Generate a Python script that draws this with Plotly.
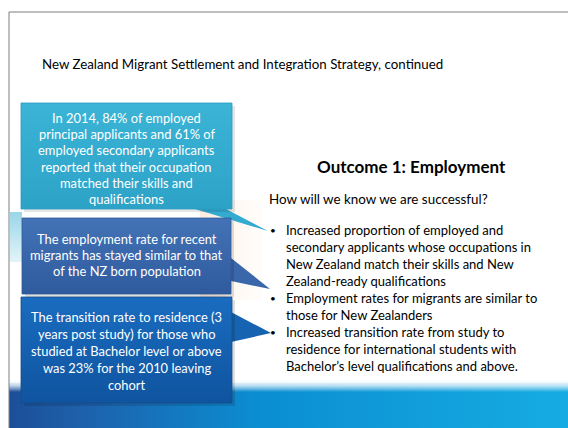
import plotly.graph_objects as go

# ---- slide text content ----
TITLE = "New Zealand Migrant Settlement and Integration Strategy, continued"
BOX1_LINES = ["In 2014, 84% of employed", "principal applicants and 61% of",
              "employed secondary applicants", "reported that their occupation",
              "matched their skills and", "qualifications"]
BOX2_LINES = ["The employment rate for recent", "migrants has stayed similar to that",
              "of the NZ born population"]
BOX3_LINES = ["The transition rate to residence (3", "years post study) for those who",
              "studied at Bachelor level or above", "was 23% for the 2010 leaving",
              "cohort"]
HEADING = "Outcome 1: Employment"
QUESTION = "How will we know we are successful?"
BULLETS = [
    ["Increased proportion of employed and", "secondary applicants whose occupations in",
     "New Zealand match their skills and New", "Zealand-ready qualifications"],
    ["Employment rates for migrants are similar to", "those for New Zealanders"],
    ["Increased transition rate from study to", "residence for international students with",
     "Bachelor\u2019s level qualifications and above."],
]

W, H = 568, 428
FONT = "Lato"

fig = go.Figure()


def poly(xs, ys, color=None, grad=None, line_color=None, lw=0):
    kw = dict(x=list(xs) + [xs[0]], y=list(ys) + [ys[0]], mode="lines", fill="toself",
              hoverinfo="skip", showlegend=False,
              line=dict(width=lw, color=line_color or "rgba(0,0,0,0)"))
    if grad is not None:
        kw["fillgradient"] = grad
    else:
        kw["fillcolor"] = color
    fig.add_trace(go.Scatter(**kw))


def rect(x0, y0, x1, y1, **kw):
    poly([x0, x1, x1, x0], [y0, y0, y1, y1], **kw)


# faint blurred photo behind callouts
rect(200, 200, 262, 300, grad=dict(type="horizontal", start=200, stop=262,
                                   colorscale=[[0, "rgba(250,190,140,0.30)"],
                                               [1, "rgba(255,235,215,0.10)"]]))
rect(10, 212, 22, 262, grad=dict(type="vertical", start=212, stop=262,
                                 colorscale=[[0, "rgba(70,180,215,0.55)"],
                                             [1, "rgba(70,180,215,0.15)"]]))

# bottom band
rect(9, 383, W, H, grad=dict(type="horizontal", start=9, stop=W,
                             colorscale=[[0, "#1B4E98"], [0.12, "#1E5FAA"], [0.45, "#0B8ED2"],
                                         [1, "#16ACE2"]]))
rect(9, 380, W, 392, grad=dict(type="vertical", start=380, stop=392,
                               colorscale=[[0, "rgba(255,255,255,1)"], [0.45, "rgba(225,240,250,0.85)"],
                                           [1, "rgba(255,255,255,0)"]]))

# callout pointers
poly([195, 268, 226], [209, 231, 209], color="#33AAD0")
poly([231, 270, 231], [258, 289, 281], color="#3A66AA")
poly([231, 271, 231], [312, 333, 342], color="#1663B2")

# shadows
rect(24, 106, 235, 212, color="rgba(0,0,0,0.10)")
rect(25, 221, 234, 297, color="rgba(0,0,0,0.12)")
rect(24, 300, 235, 406, color="rgba(0,0,0,0.12)")

# boxes
rect(21, 103, 232, 209, grad=dict(type="vertical", start=103, stop=209,
                                  colorscale=[[0, "#3BB4D6"], [1, "#2CA2C7"]]),
     line_color="#2A9CC0", lw=0.8)
rect(22, 218, 231, 294, grad=dict(type="vertical", start=218, stop=294,
                                  colorscale=[[0, "#4373B6"], [1, "#2F5A9E"]]),
     line_color="#2E5B9A", lw=0.8)
rect(21, 297, 232, 403, grad=dict(type="vertical", start=297, stop=403,
                                  colorscale=[[0, "#1A6CC0"], [1, "#0F549F"]]),
     line_color="#1B4B85", lw=0.8)

ann = []


def txt(x, y, s, size=12.5, color="#000000", anchor="left", bold=False):
    ann.append(dict(x=x, y=y, xref="x", yref="y", text=(f"<b>{s}</b>" if bold else s),
                    showarrow=False, xanchor=anchor, yanchor="middle",
                    font=dict(family=FONT, size=size, color=color)))


txt(40, 64, TITLE, size=13.3)
for i, s in enumerate(BOX1_LINES):
    txt(126.5, 118 + i * 16.2, s, size=12.9, color="white", anchor="center")
for i, s in enumerate(BOX2_LINES):
    txt(126.5, 239 + i * 16, s, size=12.9, color="white", anchor="center")
for i, s in enumerate(BOX3_LINES):
    txt(126.5, 317 + i * 17, s, size=12.9, color="white", anchor="center")

txt(411, 166, HEADING, size=17, anchor="center", bold=True)
txt(267, 199, QUESTION, size=13.4)
row = 0
for group in BULLETS:
    txt(268, 230 + row * 17, "\u2022", size=10)
    for s in group:
        txt(284, 230 + row * 17, s, size=13)
        row += 1

fig.update_layout(
    width=W, height=H, margin=dict(l=0, r=0, t=0, b=0),
    paper_bgcolor="white", plot_bgcolor="white",
    xaxis=dict(range=[0, W], visible=False, fixedrange=True),
    yaxis=dict(range=[H, 0], visible=False, fixedrange=True),
    annotations=ann,
    shapes=[
        dict(type="line", x0=9, x1=9, y0=12, y1=H, xref="x", yref="y",
             line=dict(color="#7F7F7F", width=1)),
        dict(type="line", x0=9, x1=W, y0=12, y1=12, xref="x", yref="y",
             line=dict(color="#7F7F7F", width=1)),
    ],
)

fig.write_html("out.html", config={"displayModeBar": False, "staticPlot": True},
               post_script="document.body.style.margin='0';")
